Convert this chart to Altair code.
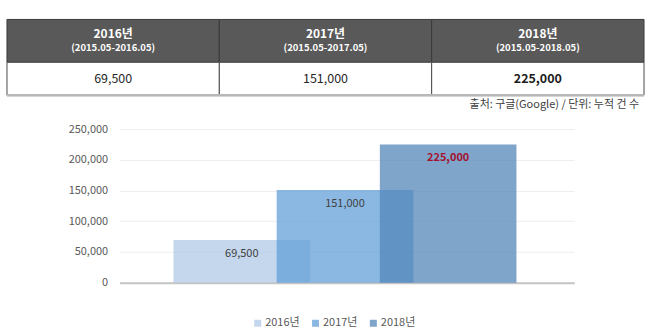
import altair as alt
import pandas as pd

years = ["2016년", "2017년", "2018년"]
periods = ["(2015.05-2016.05)", "(2015.05-2017.05)", "(2015.05-2018.05)"]
values = [69500, 151000, 225000]
value_labels = ["69,500", "151,000", "225,000"]
positions = [0, 1, 2]
highlight = [False, False, True]
bar_colors = ["#afc9e5", "#619fd8", "#5285b9"]
y_ticks = [0, 50000, 100000, 150000, 200000, 250000]
source_note = ["출처: 구글(Google) / 단위: 누적 건 수"]

FONT = "Noto Sans CJK KR"
LEFT = 113  # width of the y-axis band of the bar chart

df = pd.DataFrame({
    "year": years,
    "period": periods,
    "value": values,
    "label": value_labels,
    "idx": positions,
    "hl": highlight,
})
note_df = pd.DataFrame({"note": source_note})

# ---------------- table ----------------
TW = 639 - LEFT
xband = alt.X("year:N", scale=alt.Scale(domain=years, paddingInner=0, paddingOuter=0, range=[-LEFT, TW]), axis=None)
tbase = alt.Chart(df)

header = tbase.mark_rect(color="#595959", stroke="#3a3a3a", strokeWidth=1).encode(
    x=xband, y=alt.value(0), y2=alt.value(43))
rowrect = tbase.mark_rect(color="white", stroke="#4a4a4a", strokeWidth=1).encode(
    x=xband, y=alt.value(43), y2=alt.value(76))
bottom_rule = tbase.mark_rule(color="#b8b8b8", strokeWidth=2).encode(
    x=alt.value(-LEFT), x2=alt.value(TW), y=alt.value(76))
h1 = tbase.mark_text(color="white", fontWeight="bold", fontSize=12, baseline="middle").encode(
    x=xband, y=alt.value(15), text="year:N")
h2 = tbase.mark_text(color="white", fontWeight="bold", fontSize=9.5, baseline="middle").encode(
    x=xband, y=alt.value(29), text="period:N")
v_norm = tbase.transform_filter("!datum.hl").mark_text(color="#262626", fontSize=12.5, baseline="middle").encode(
    x=xband, y=alt.value(60), text="label:N")
v_bold = tbase.transform_filter("datum.hl").mark_text(color="#1a1a1a", fontSize=12.5, fontWeight="bold", baseline="middle").encode(
    x=xband, y=alt.value(60), text="label:N")
note = alt.Chart(note_df).mark_text(color="#404040", fontSize=11, align="right", baseline="middle").encode(
    x=alt.value(TW - 5), y=alt.value(86), text="note:N")

table = alt.layer(header, rowrect, bottom_rule, h1, h2, v_norm, v_bold, note).properties(width=TW, height=77)

# ---------------- bar chart ----------------
xscale = alt.Scale(domain=[-1.184, 3.222], nice=False, zero=False)
xaxis = alt.Axis(labels=False, ticks=False, grid=False, domain=True, domainColor="#c4c4c4",
                 domainWidth=2, title=None)
yscale = alt.Scale(domain=[0, 250000], nice=False)
yaxis = alt.Axis(values=y_ticks, format=",d", ticks=False, domain=False, grid=True,
                 gridColor="#eeeeee", labelFontSize=11, labelColor="#595959", labelOverlap=False,
                 labelPadding=12, minExtent=LEFT, maxExtent=LEFT, title=None)

bbase = alt.Chart(df).transform_calculate(x1="datum.idx - 0.662", x2="datum.idx + 0.662")
bars = bbase.mark_bar(opacity=0.74).encode(
    x=alt.X("x1:Q", scale=xscale, axis=xaxis),
    x2="x2:Q",
    y=alt.Y("value:Q", scale=yscale, axis=yaxis),
    y2=alt.datum(0),
    color=alt.Color("year:N", scale=alt.Scale(domain=years, range=bar_colors),
                    legend=alt.Legend(orient="none", legendX=133, legendY=299, direction="horizontal",
                                      title=None, symbolType="square", symbolSize=49,
                                      labelFontSize=11, labelColor="#595959", columnPadding=10,
                                      labelOffset=2, symbolStrokeWidth=0)),
)
lab_norm = bbase.transform_filter("!datum.hl").mark_text(color="#404040", fontSize=11, dy=14, baseline="middle").encode(
    x=alt.X("idx:Q", scale=xscale, axis=xaxis), y=alt.Y("value:Q", scale=yscale, axis=yaxis), text="label:N")
lab_hl = bbase.transform_filter("datum.hl").mark_text(color="#a3122f", fontSize=11, fontWeight="bold", dy=14, baseline="middle").encode(
    x=alt.X("idx:Q", scale=xscale, axis=xaxis), y=alt.Y("value:Q", scale=yscale, axis=yaxis), text="label:N")

barchart = alt.layer(bars, lab_norm, lab_hl).properties(width=456, height=154)

chart = alt.vconcat(table, barchart, spacing=13).configure(
    font=FONT,
    padding={"left": 6, "top": 18, "right": 5, "bottom": 0},
).configure_view(stroke=None)

chart.save("out.html", embed_options={"renderer": "svg", "actions": False})
